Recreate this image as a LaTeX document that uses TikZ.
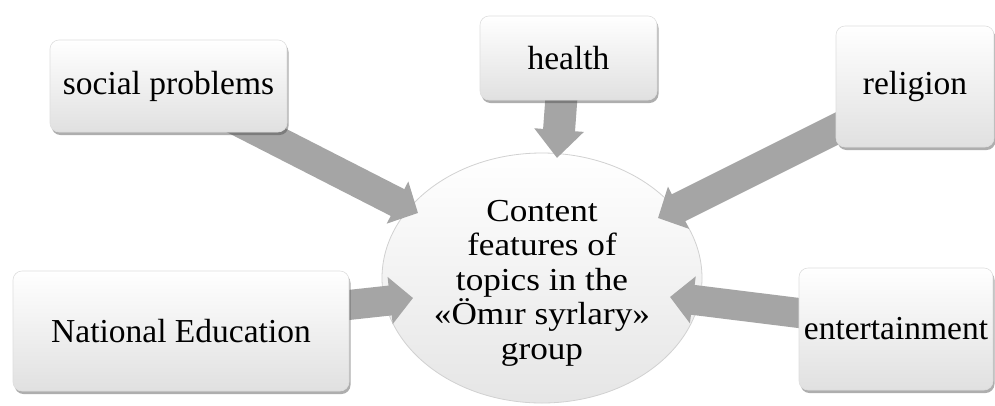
\documentclass[tikz,border=0pt]{standalone}
\usepackage{fontspec}
\setmainfont{Liberation Serif}
\newfontfamily\widefont[FakeStretch=1.1]{Liberation Serif}
\usetikzlibrary{shadows,arrows.meta,shapes.geometric}
\pgfdeclarelayer{bg}
\pgfdeclarelayer{arr}
\pgfsetlayers{bg,arr,main}
\definecolor{arrgray}{HTML}{A5A5A5}
\begin{document}
\begin{tikzpicture}[x=1pt,y=-1pt,
  box/.style={draw=black!13, line width=0.6pt, rounded corners=9pt,
    top color=white, middle color=white, bottom color=black!12,
    drop shadow={shadow xshift=1.5pt, shadow yshift=-3pt, opacity=0.45, fill=black!70},
    inner sep=0pt, font=\fontsize{33.5}{34}\selectfont},
  blockarrow/.style={draw=arrgray, line width=30pt,
    -{Triangle[width=46pt,length=23pt]}},
  centre/.style={ellipse, draw=black!18, line width=0.8pt,
    top color=white, middle color=white, bottom color=black!10,
    minimum width=320pt, minimum height=250pt, inner sep=0pt},
  ctext/.style={align=center, font=\widefont\fontsize{32}{34.5}\selectfont, inner sep=0pt}]
\useasboundingbox (0,0) rectangle (995,405);
\begin{pgfonlayer}{bg}
  \fill[white] (0,0) rectangle (995,405);
  \node[centre] (c) at (542,278) {};
\end{pgfonlayer}
\node[ctext] (ct) at (542,283) {Content\\features of\\topics in the\\«Ömır syrlary»\\group};

\node[box, minimum width=237pt, minimum height=92pt] (sp) at (168.5,86) {social problems};
\node[box, minimum width=177pt, minimum height=84pt] (he) at (568.5,58) {health};
\node[box, minimum width=158pt, minimum height=121pt] (re) at (915,86.5) {religion};
\node[box, minimum width=336pt, minimum height=120pt] (ne) at (181,331) {National Education};
\node[box, minimum width=194pt, minimum height=122pt] (en) at (896,329) {entertainment};

\coordinate (s1) at (232,118); \coordinate (t1) at (418,213);
\coordinate (s2) at (562,90);  \coordinate (t2) at (557,158);
\coordinate (s3) at (850,122); \coordinate (t3) at (658,218);
\coordinate (s4) at (330,307); \coordinate (t4) at (413,298);
\coordinate (s5) at (815,315); \coordinate (t5) at (670,297);
\begin{pgfonlayer}{arr}
  \draw[blockarrow] (s1) -- (t1);
  \draw[blockarrow, line width=32pt, -{Triangle[width=48pt,length=28pt]}] (s2) -- (t2);
  \draw[blockarrow] (s3) -- (t3);
  \draw[blockarrow] (s4) -- (t4);
  \draw[blockarrow] (s5) -- (t5);
\end{pgfonlayer}
\end{tikzpicture}
\end{document}
